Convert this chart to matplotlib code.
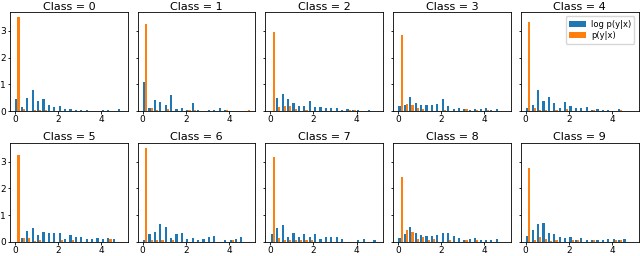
import numpy as np
import matplotlib
matplotlib.use("Agg")
import matplotlib.pyplot as plt

# 20 bins over [0, 5]
bin_edges = np.linspace(0, 5, 21)
class_names = ["Class = 0", "Class = 1", "Class = 2", "Class = 3", "Class = 4",
               "Class = 5", "Class = 6", "Class = 7", "Class = 8", "Class = 9"]
series_labels = ["log p(y|x)", "p(y|x)"]

# density heights per bin
log_p_0 = [0.46, 0.15, 0.49, 0.79, 0.37, 0.46, 0.24, 0.16, 0.19, 0.09, 0.08, 0.04, 0.04, 0.04, 0.0, 0.0, 0.03, 0.03, 0.0, 0.09]
p_0 = [3.52, 0.07, 0.02, 0.03, 0.03, 0.06, 0.0, 0.0, 0.0, 0.0, 0.0, 0.0, 0.0, 0.0, 0.0, 0.0, 0.0, 0.0, 0.0, 0.0]
log_p_1 = [1.08, 0.11, 0.41, 0.36, 0.22, 0.61, 0.08, 0.11, 0.04, 0.31, 0.04, 0.0, 0.04, 0.04, 0.11, 0.04, 0.0, 0.0, 0.0, 0.0]
p_1 = [3.26, 0.11, 0.04, 0.02, 0.07, 0.02, 0.0, 0.0, 0.04, 0.04, 0.0, 0.0, 0.0, 0.0, 0.0, 0.04, 0.0, 0.0, 0.0, 0.04]
log_p_2 = [0.0, 0.49, 0.66, 0.45, 0.30, 0.19, 0.19, 0.40, 0.15, 0.15, 0.11, 0.11, 0.11, 0.04, 0.07, 0.04, 0.04, 0.0, 0.04, 0.0]
p_2 = [2.95, 0.15, 0.19, 0.19, 0.07, 0.02, 0.04, 0.02, 0.0, 0.0, 0.0, 0.0, 0.0, 0.0, 0.04, 0.04, 0.0, 0.0, 0.0, 0.0]
log_p_3 = [0.18, 0.22, 0.54, 0.31, 0.22, 0.22, 0.22, 0.27, 0.46, 0.19, 0.07, 0.11, 0.07, 0.04, 0.07, 0.07, 0.11, 0.04, 0.07, 0.0]
p_3 = [2.83, 0.26, 0.22, 0.11, 0.07, 0.0, 0.0, 0.0, 0.04, 0.0, 0.0, 0.02, 0.07, 0.0, 0.03, 0.0, 0.04, 0.0, 0.0, 0.0]
log_p_4 = [0.11, 0.22, 0.79, 0.37, 0.54, 0.31, 0.11, 0.34, 0.19, 0.11, 0.11, 0.15, 0.04, 0.07, 0.04, 0.04, 0.0, 0.07, 0.0, 0.0]
p_4 = [3.33, 0.11, 0.04, 0.04, 0.02, 0.04, 0.0, 0.07, 0.02, 0.0, 0.02, 0.0, 0.03, 0.0, 0.02, 0.0, 0.0, 0.04, 0.0, 0.0]
log_p_5 = [0.0, 0.16, 0.42, 0.53, 0.27, 0.36, 0.33, 0.33, 0.33, 0.10, 0.27, 0.17, 0.17, 0.10, 0.10, 0.16, 0.10, 0.16, 0.10, 0.0]
p_5 = [3.26, 0.14, 0.14, 0.02, 0.08, 0.0, 0.0, 0.0, 0.08, 0.0, 0.08, 0.0, 0.0, 0.0, 0.0, 0.0, 0.0, 0.10, 0.0, 0.0]
log_p_6 = [0.09, 0.31, 0.37, 0.68, 0.55, 0.13, 0.31, 0.33, 0.10, 0.13, 0.09, 0.10, 0.17, 0.21, 0.0, 0.08, 0.09, 0.10, 0.18, 0.0]
p_6 = [3.50, 0.08, 0.08, 0.08, 0.0, 0.08, 0.0, 0.0, 0.0, 0.0, 0.0, 0.0, 0.0, 0.0, 0.0, 0.0, 0.08, 0.0, 0.0, 0.0]
log_p_7 = [0.30, 0.53, 0.63, 0.19, 0.32, 0.19, 0.30, 0.17, 0.30, 0.12, 0.17, 0.17, 0.17, 0.10, 0.0, 0.0, 0.07, 0.12, 0.0, 0.09]
p_7 = [3.17, 0.15, 0.08, 0.08, 0.08, 0.08, 0.08, 0.08, 0.0, 0.0, 0.0, 0.0, 0.0, 0.0, 0.0, 0.0, 0.0, 0.0, 0.0, 0.0]
log_p_8 = [0.16, 0.31, 0.57, 0.32, 0.27, 0.22, 0.22, 0.27, 0.34, 0.34, 0.22, 0.15, 0.08, 0.11, 0.15, 0.08, 0.08, 0.08, 0.11, 0.0]
p_8 = [2.43, 0.44, 0.36, 0.10, 0.17, 0.08, 0.11, 0.0, 0.0, 0.08, 0.0, 0.0, 0.08, 0.0, 0.08, 0.0, 0.0, 0.0, 0.0, 0.0]
log_p_9 = [0.23, 0.44, 0.66, 0.71, 0.34, 0.30, 0.17, 0.15, 0.17, 0.08, 0.15, 0.08, 0.08, 0.08, 0.08, 0.11, 0.11, 0.08, 0.11, 0.0]
p_9 = [2.77, 0.08, 0.17, 0.12, 0.03, 0.08, 0.0, 0.0, 0.08, 0.08, 0.0, 0.0, 0.08, 0.0, 0.0, 0.0, 0.08, 0.08, 0.0, 0.0]

log_p_all = [log_p_0, log_p_1, log_p_2, log_p_3, log_p_4, log_p_5, log_p_6, log_p_7, log_p_8, log_p_9]
p_all = [p_0, p_1, p_2, p_3, p_4, p_5, p_6, p_7, p_8, p_9]

plt.rcParams['font.family'] = ['DejaVu Sans']
fig, axes = plt.subplots(2, 5, figsize=(6.4, 2.56), dpi=100, sharey=True)
fig.subplots_adjust(left=0.0156, right=0.9977, top=0.952, bottom=0.055,
                    wspace=0.085, hspace=0.32)

centers = 0.5 * (bin_edges[:-1] + bin_edges[1:])
for i, ax in enumerate(axes.flat):
    ax.hist([centers, centers], bins=bin_edges,
            weights=[log_p_all[i], p_all[i]],
            color=["#1f77b4", "#ff7f0e"], label=series_labels)
    ax.set_title(class_names[i], fontsize=8, pad=2)
    ax.set_xticks([0, 2, 4])
    ax.tick_params(labelsize=6.5, length=1.8, pad=1.2, width=0.6)
    for s in ax.spines.values():
        s.set_linewidth(0.6)
    if i == 4:
        ax.legend(fontsize=6, loc="upper right", handlelength=2.0,
                  borderpad=0.4, labelspacing=0.3, handletextpad=0.6)

fig.savefig("out.png", dpi=100)
